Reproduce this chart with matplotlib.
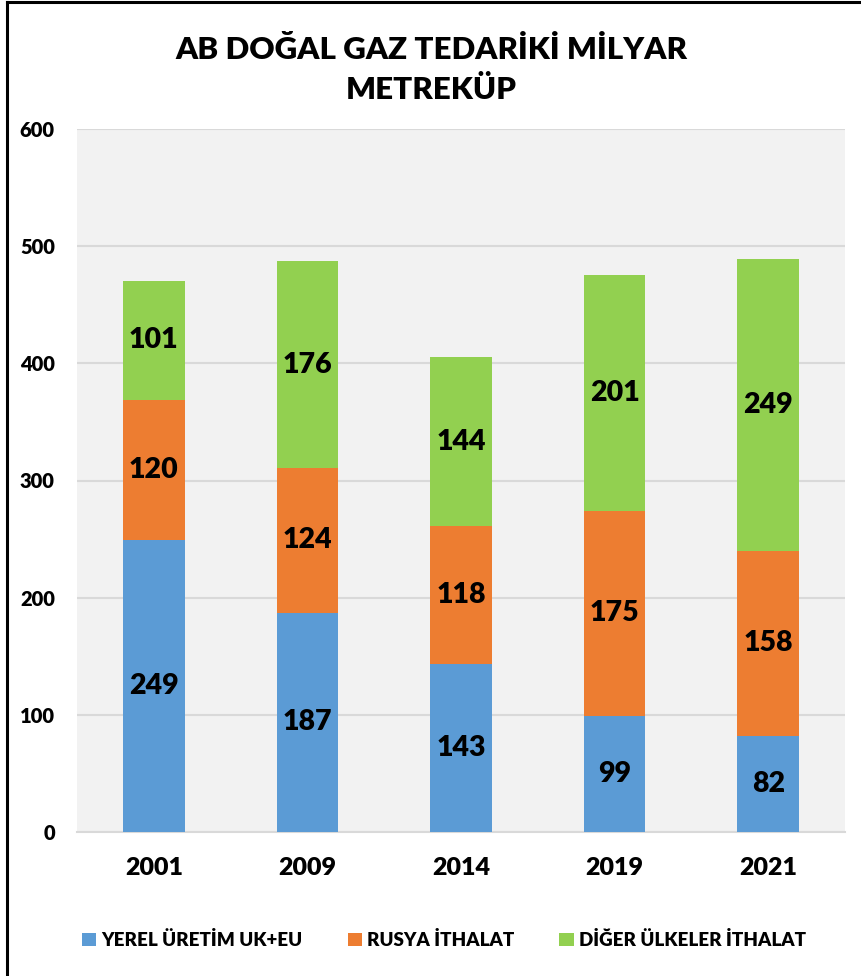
import matplotlib
matplotlib.use("Agg")
import matplotlib.pyplot as plt
from matplotlib.lines import Line2D
import numpy as np

years = ["2001", "2009", "2014", "2019", "2021"]
series_names = ["YEREL ÜRETİM UK+EU", "RUSYA İTHALAT", "DİĞER ÜLKELER İTHALAT"]
yerel = [249, 187, 143, 99, 82]
rusya = [120, 124, 118, 175, 158]
diger = [101, 176, 144, 201, 249]
colors = ["#5b9bd5", "#ed7d31", "#92d050"]
yticks = [0, 100, 200, 300, 400, 500, 600]
title = "AB DOĞAL GAZ TEDARİKİ MİLYAR\nMETREKÜP"

plt.rcParams['font.family'] = ['Lato', 'DejaVu Sans']
WT = "heavy"
W, H = 862, 976
fig = plt.figure(figsize=(W/100, H/100), dpi=100)
fig.patch.set_facecolor("white")

ax = fig.add_axes([77/W, 1-832/H, (845-77)/W, (832-129)/H])
ax.set_facecolor("#f2f2f2")
x = np.arange(len(years))
bottom = np.zeros(len(years))
for vals, c, name in zip([yerel, rusya, diger], colors, series_names):
    v = np.array(vals, dtype=float)
    ax.bar(x, v, 0.40, bottom=bottom, color=c, label=name, zorder=3)
    for xi, b, val in zip(x, bottom, v):
        ax.text(xi, b + val/2, f"{int(val)}", ha="center", va="center",
                fontsize=20.5, fontweight=WT, color="black", zorder=4)
    bottom += v

ax.set_xlim(-0.5, len(years)-0.5)
ax.set_ylim(0, 600)
ax.set_yticks(yticks)
ax.set_yticklabels([str(t) for t in yticks], fontsize=14.5, fontweight=WT)
ax.set_xticks(x)
ax.set_xticklabels(years, fontsize=18, fontweight=WT)
ax.tick_params(axis="both", length=0)
ax.tick_params(axis="y", pad=16)
ax.tick_params(axis="x", pad=18)
ax.grid(axis="y", color="#d9d9d9", linewidth=1.5, zorder=0)
for s in ["top", "right", "left"]:
    ax.spines[s].set_visible(False)
ax.spines["bottom"].set_color("#d9d9d9")
ax.spines["bottom"].set_linewidth(1.5)

fig.text(0.5, 1-70/H, title, ha="center", va="center", fontsize=22.5,
         fontweight=WT, linespacing=1.55)

fig.legend(loc="center", bbox_to_anchor=(0.515, 1-940/H), ncol=3,
           frameon=False, handlelength=0.75, handleheight=0.75,
           handletextpad=0.3, columnspacing=2.4,
           prop={'weight': WT, 'size': 13.5, 'family': ['Lato', 'DejaVu Sans']})

# figure border (left and top edges visible)
fig.add_artist(Line2D([7.5/W, 7.5/W], [0, 1 - 2/H], transform=fig.transFigure,
                      color="black", linewidth=2.2, solid_capstyle="projecting"))
fig.add_artist(Line2D([7.5/W, 1], [1 - 2/H, 1 - 2/H], transform=fig.transFigure,
                      color="black", linewidth=2.2, solid_capstyle="projecting"))

fig.savefig("out.png", dpi=100, facecolor="white")
